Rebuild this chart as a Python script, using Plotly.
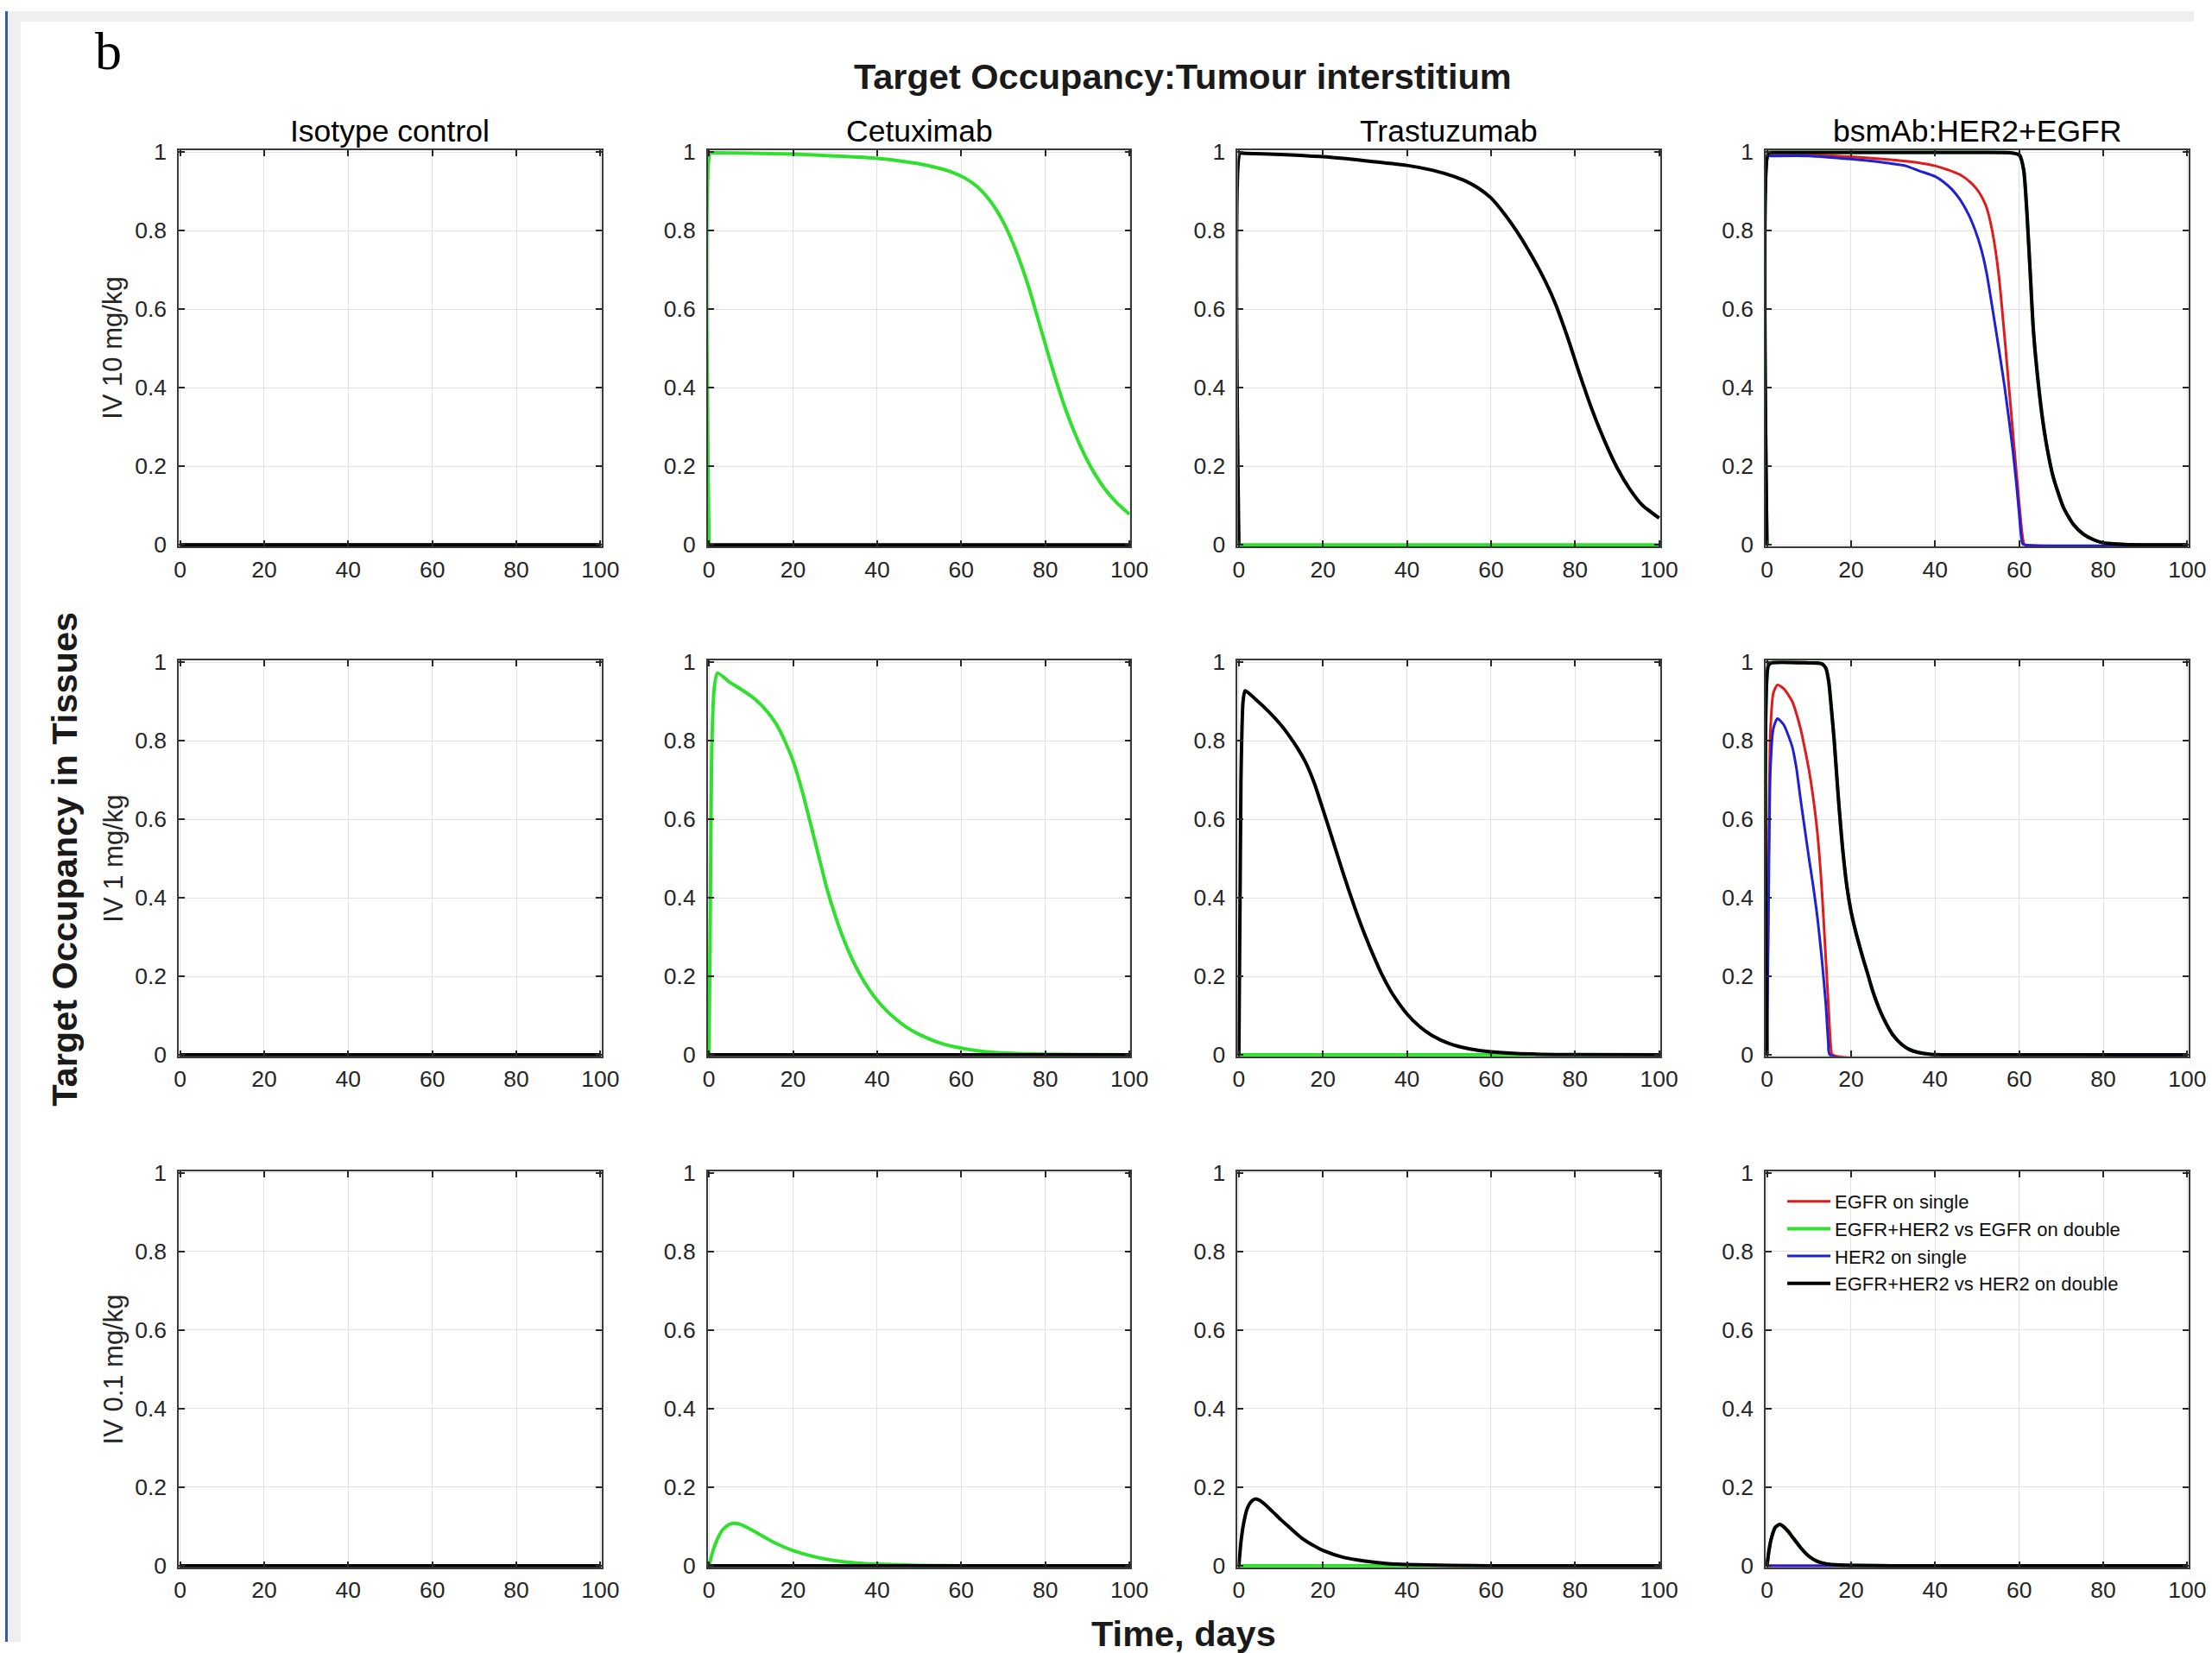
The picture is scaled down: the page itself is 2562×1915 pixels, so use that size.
import plotly.graph_objects as go

W, H = 2562, 1915

# ---------------- data ----------------
COL_TITLES = ["Isotype control", "Cetuximab", "Trastuzumab", "bsmAb:HER2+EGFR"]
ROW_LABELS = ["IV 10 mg/kg", "IV 1 mg/kg", "IV 0.1 mg/kg"]
SERIES_NAMES = ["EGFR on single", "EGFR+HER2 vs EGFR on double",
                "HER2 on single", "EGFR+HER2 vs HER2 on double"]
X_TICKS = [0, 20, 40, 60, 80, 100]
Y_TICKS = [0, 0.2, 0.4, 0.6, 0.8, 1]
Y_TICK_TEXT = ["0", "0.2", "0.4", "0.6", "0.8", "1"]

zero_t = [0, 100]
zero_v = [0, 0]

# IV 10 mg/kg
cet10_t = [0, 0.3, 1, 10, 20, 30, 40, 45, 50, 55, 58, 61, 64, 67, 70, 73, 76, 79, 82, 85, 88, 91, 94, 97, 100]
cet10_v = [0, 0.998, 0.998, 0.997, 0.995, 0.99, 0.984, 0.978, 0.97, 0.958, 0.948, 0.933, 0.91, 0.874, 0.822, 0.75, 0.658, 0.548, 0.438, 0.34, 0.26, 0.195, 0.145, 0.107, 0.078]
tra10_t = [0, 0.3, 1, 10, 20, 30, 40, 45, 50, 54, 57, 60, 63, 66, 69, 72, 75, 78, 81, 84, 87, 90, 93, 96, 100]
tra10_v = [0, 0.998, 0.997, 0.994, 0.988, 0.978, 0.966, 0.956, 0.942, 0.926, 0.908, 0.883, 0.845, 0.8, 0.748, 0.69, 0.622, 0.535, 0.437, 0.345, 0.265, 0.196, 0.142, 0.101, 0.068]
bs10_black_t = [0, 0.3, 1, 10, 30, 50, 58, 60.1, 61.1, 61.9, 62.6, 63.4, 64.5, 65.7, 66.9, 68.1, 70.5, 72.9, 75.3, 77.7, 80, 85, 90, 100]
bs10_black_v = [0, 0.998, 0.999, 0.999, 0.999, 0.999, 0.998, 0.992, 0.953, 0.836, 0.699, 0.544, 0.417, 0.31, 0.232, 0.173, 0.096, 0.052, 0.027, 0.013, 0.005, 0.001, 0, 0]
bs10_green_t = bs10_black_t
bs10_green_v = bs10_black_v
bs10_red_t = [0, 0.3, 1, 10, 20, 30, 36, 40, 43, 46, 48.5, 50.5, 52, 52.5, 53.3, 54, 54.7, 55.3, 55.9, 56.7, 57.5, 58.4, 59.3, 60.1, 60.7, 61.1, 61.5, 100]
bs10_red_v = [0, 0.995, 0.995, 0.994, 0.988, 0.98, 0.973, 0.965, 0.955, 0.942, 0.922, 0.897, 0.866, 0.85, 0.815, 0.775, 0.725, 0.672, 0.605, 0.51, 0.41, 0.3, 0.19, 0.095, 0.03, 0.004, 0, 0]
bs10_blue_t = [0, 0.3, 1, 10, 20, 28, 33, 36, 40, 42, 44, 46, 48, 49.5, 51, 52.3, 53.3, 54.5, 55.5, 56.5, 57.5, 58.5, 59.3, 60, 60.5, 60.8, 61.2, 100]
bs10_blue_v = [0, 0.99, 0.99, 0.99, 0.982, 0.973, 0.965, 0.953, 0.938, 0.924, 0.905, 0.878, 0.84, 0.802, 0.752, 0.69, 0.625, 0.545, 0.476, 0.405, 0.325, 0.24, 0.16, 0.08, 0.02, 0.003, 0, 0]

# IV 1 mg/kg
cet1_t = [0, 0.6, 1.2, 2, 5, 8, 11, 14, 16, 18, 20, 22, 24, 26, 28, 30, 32, 34, 36, 38, 40, 42, 44, 47, 50, 55, 60, 65, 70, 80, 90, 100]
cet1_v = [0, 0.75, 0.93, 0.972, 0.948, 0.928, 0.905, 0.872, 0.842, 0.8, 0.748, 0.678, 0.595, 0.51, 0.425, 0.355, 0.295, 0.245, 0.203, 0.168, 0.139, 0.115, 0.095, 0.07, 0.052, 0.03, 0.017, 0.009, 0.005, 0.0015, 0.0005, 0]
tra1_t = [0, 0.5, 1, 1.5, 4, 7, 10, 12, 14, 16, 18, 20, 22, 24, 26, 28, 30, 32, 34, 36, 38, 40, 43, 46, 50, 55, 60, 70, 80, 100]
tra1_v = [0, 0.7, 0.9, 0.927, 0.905, 0.875, 0.84, 0.812, 0.78, 0.742, 0.69, 0.625, 0.558, 0.49, 0.424, 0.362, 0.305, 0.253, 0.205, 0.165, 0.132, 0.104, 0.072, 0.049, 0.029, 0.015, 0.008, 0.002, 0.0005, 0]
bs1_black_t = [0, 0.3, 1, 10, 13, 14, 14.7, 15.3, 16, 16.6, 17.2, 18, 19, 20, 21, 22, 23, 24, 25, 26, 27, 28, 29, 30, 32, 34, 36, 39, 42, 100]
bs1_black_v = [0, 0.99, 0.998, 0.998, 0.996, 0.985, 0.95, 0.885, 0.8, 0.71, 0.625, 0.525, 0.43, 0.365, 0.318, 0.278, 0.24, 0.205, 0.168, 0.137, 0.11, 0.087, 0.067, 0.05, 0.027, 0.013, 0.006, 0.001, 0, 0]
bs1_green_t = bs1_black_t
bs1_green_v = bs1_black_v
bs1_red_t = [0, 0.4, 0.8, 1.5, 2.5, 4, 6, 8, 9, 10, 11, 12, 13, 14, 14.6, 15.2, 15.6, 100]
bs1_red_v = [0, 0.5, 0.82, 0.92, 0.942, 0.932, 0.9, 0.83, 0.78, 0.725, 0.655, 0.565, 0.43, 0.245, 0.13, 0.02, 0, 0]
bs1_blue_t = [0, 0.4, 0.8, 1.5, 2.5, 4, 6, 7, 8, 9, 10, 11, 12, 13, 14, 14.6, 15, 100]
bs1_blue_v = [0, 0.4, 0.72, 0.83, 0.856, 0.84, 0.785, 0.73, 0.65, 0.575, 0.5, 0.43, 0.35, 0.25, 0.13, 0.03, 0, 0]

# IV 0.1 mg/kg
cet01_t = [0, 1, 2, 3, 4, 5, 6, 7, 8, 10, 12, 15, 18, 20, 25, 30, 35, 40, 50, 60, 100]
cet01_v = [0, 0.04, 0.068, 0.088, 0.099, 0.106, 0.108, 0.107, 0.103, 0.092, 0.08, 0.062, 0.047, 0.0385, 0.023, 0.013, 0.007, 0.004, 0.001, 0, 0]
tra01_t = [0, 0.5, 1, 2, 3, 4, 5, 6, 8, 10, 12, 15, 18, 20, 25, 30, 35, 40, 50, 60, 100]
tra01_v = [0, 0.06, 0.1, 0.146, 0.164, 0.17, 0.166, 0.158, 0.138, 0.117, 0.098, 0.07, 0.05, 0.039, 0.021, 0.012, 0.006, 0.003, 0.001, 0, 0]
bs01_black_t = [0, 0.5, 1, 2, 3, 4, 5, 6, 8, 10, 12, 14, 17, 20, 30, 100]
bs01_black_v = [0, 0.04, 0.068, 0.098, 0.105, 0.099, 0.088, 0.074, 0.046, 0.024, 0.011, 0.005, 0.002, 0.001, 0, 0]
bs01_green_t = bs01_black_t
bs01_green_v = bs01_black_v

# series per panel: (colour key, t, v)
PANELS = [
    [  # IV 10
        [("green", zero_t, zero_v), ("black", zero_t, zero_v)],
        [("green", cet10_t, cet10_v), ("black", zero_t, zero_v)],
        [("green", zero_t, zero_v), ("black", tra10_t, tra10_v)],
        [("red", bs10_red_t, bs10_red_v), ("green", bs10_green_t, bs10_green_v),
         ("blue", bs10_blue_t, bs10_blue_v), ("black", bs10_black_t, bs10_black_v)],
    ],
    [  # IV 1
        [("green", zero_t, zero_v), ("black", zero_t, zero_v)],
        [("green", cet1_t, cet1_v), ("black", zero_t, zero_v)],
        [("green", zero_t, zero_v), ("black", tra1_t, tra1_v)],
        [("red", bs1_red_t, bs1_red_v), ("green", bs1_green_t, bs1_green_v),
         ("blue", bs1_blue_t, bs1_blue_v), ("black", bs1_black_t, bs1_black_v)],
    ],
    [  # IV 0.1
        [("green", zero_t, zero_v), ("black", zero_t, zero_v)],
        [("green", cet01_t, cet01_v), ("black", zero_t, zero_v)],
        [("green", zero_t, zero_v), ("black", tra01_t, tra01_v)],
        [("red", zero_t, zero_v), ("green", bs01_green_t, bs01_green_v),
         ("blue", zero_t, zero_v), ("black", bs01_black_t, bs01_black_v)],
    ],
]

# ---------------- styling ----------------
COLORS = {"red": "#e01b1b", "green": "#2fe02f", "blue": "#1f1fd6", "black": "#000000"}
WIDTHS = {"red": 3, "green": 4, "blue": 3, "black": 4}
NAME_OF = {"red": SERIES_NAMES[0], "green": SERIES_NAMES[1],
           "blue": SERIES_NAMES[2], "black": SERIES_NAMES[3]}

FONT = "Liberation Sans, Arial, Helvetica, sans-serif"
AXC = "#262626"

# target positions in screen pixels
COL_X0 = [207, 820, 1434, 2046]
COL_W = 490
ROW_Y0 = [175, 765, 1356]
ROW_H = 458

# screen <- page correction measured on the rendered output
A_H, B_H = 0.99, 5.8
A_V, B_V = 0.985, 13.9


def px(x):
    return ((x - B_H) / A_H) / W


def py(y):
    return 1 - ((y - B_V) / A_V) / H


fig = go.Figure()
layout = dict(
    width=W, height=H, autosize=False,
    margin=dict(l=0, r=0, t=0, b=0),
    paper_bgcolor="white", plot_bgcolor="white",
    showlegend=True,
    font=dict(family=FONT, color=AXC),
)

for r in range(3):
    for c in range(4):
        idx = r * 4 + c + 1
        sx = "" if idx == 1 else str(idx)
        for key, t, v in PANELS[r][c]:
            fig.add_trace(go.Scatter(
                x=t, y=v, mode="lines",
                line=dict(color=COLORS[key], width=WIDTHS[key], shape="spline", smoothing=0.6),
                name=NAME_OF[key],
                showlegend=(r == 2 and c == 3),
                xaxis="x" + sx, yaxis="y" + sx,
                hoverinfo="skip",
            ))
        x0 = COL_X0[c]
        y0 = ROW_Y0[r]
        common = dict(
            showline=True, mirror="ticks", linecolor="#3a3a3a", linewidth=1.5,
            ticks="inside", ticklen=7, tickwidth=1.5, tickcolor=AXC,
            showgrid=True, gridcolor="#e2e2e2", gridwidth=1,
            zeroline=False, fixedrange=True,
            tickfont=dict(family=FONT, size=26.5, color=AXC),
        )
        layout["xaxis" + sx] = dict(
            domain=[px(x0), px(x0 + COL_W)],
            anchor="y" + sx, range=[-0.3, 100.3],
            tickmode="array", tickvals=X_TICKS, ticktext=[str(v) for v in X_TICKS],
            ticklabelstandoff=2, **common)
        layout["yaxis" + sx] = dict(
            domain=[py(y0 + ROW_H), py(y0)],
            anchor="x" + sx, range=[-0.004, 1.004],
            tickmode="array", tickvals=Y_TICKS, ticktext=Y_TICK_TEXT,
            ticklabelstandoff=7, **common)

annotations = []
for c, title in enumerate(COL_TITLES):
    annotations.append(dict(
        text=title, x=px(COL_X0[c] + COL_W / 2), y=py(153),
        xref="paper", yref="paper", xanchor="center", yanchor="middle",
        showarrow=False, font=dict(family=FONT, size=35.5, color="#000000")))
for r, lab in enumerate(ROW_LABELS):
    annotations.append(dict(
        text=lab, x=px(131), y=py(ROW_Y0[r] + ROW_H / 2),
        xref="paper", yref="paper", xanchor="center", yanchor="middle",
        textangle=-90, showarrow=False,
        font=dict(family=FONT, size=31, color=AXC)))
annotations.append(dict(
    text="<b>Target Occupancy:Tumour interstitium</b>", x=px(1371), y=py(89),
    xref="paper", yref="paper", xanchor="center", yanchor="middle",
    showarrow=False, font=dict(family=FONT, size=41.5, color="#1a1a1a")))
annotations.append(dict(
    text="<b>Target Occupancy in Tissues</b>", x=px(74), y=py(995),
    xref="paper", yref="paper", xanchor="center", yanchor="middle",
    textangle=-90, showarrow=False, font=dict(family=FONT, size=41.5, color="#1a1a1a")))
annotations.append(dict(
    text="<b>Time, days</b>", x=px(1372), y=py(1891),
    xref="paper", yref="paper", xanchor="center", yanchor="middle",
    showarrow=False, font=dict(family=FONT, size=41.5, color="#1a1a1a")))
annotations.append(dict(
    text="b", x=px(125), y=py(60),
    xref="paper", yref="paper", xanchor="center", yanchor="middle",
    showarrow=False, font=dict(family="Liberation Serif, Times New Roman, serif", size=62, color="#000000")))
layout["annotations"] = annotations

# page frame (grey band on top / left edge, thin blue rule)
layout["shapes"] = [
    dict(type="rect", xref="paper", yref="paper", x0=0, x1=1, y0=py(26), y1=1,
         fillcolor="#efefef", line=dict(width=0), layer="below"),
    dict(type="rect", xref="paper", yref="paper", x0=0, x1=px(24), y0=0, y1=1,
         fillcolor="#efefef", line=dict(width=0), layer="below"),
    dict(type="line", xref="paper", yref="paper", x0=1.5 / W, x1=1.5 / W, y0=0, y1=1,
         line=dict(color="#2f5f94", width=3), layer="below"),
]

layout["legend"] = dict(
    x=px(2066), y=py(1370), xanchor="left", yanchor="top",
    bgcolor="rgba(255,255,255,0)", borderwidth=0,
    font=dict(family=FONT, size=22, color="#111111"),
    tracegroupgap=0, itemwidth=50,
)

fig.update_layout(**layout)
fig.write_html("out.html", config={"displayModeBar": False},
               post_script="document.body.style.margin='0';document.body.style.overflow='hidden';"
                           "document.body.style.background='#efefef';"
                           "document.documentElement.style.background='#efefef';")
